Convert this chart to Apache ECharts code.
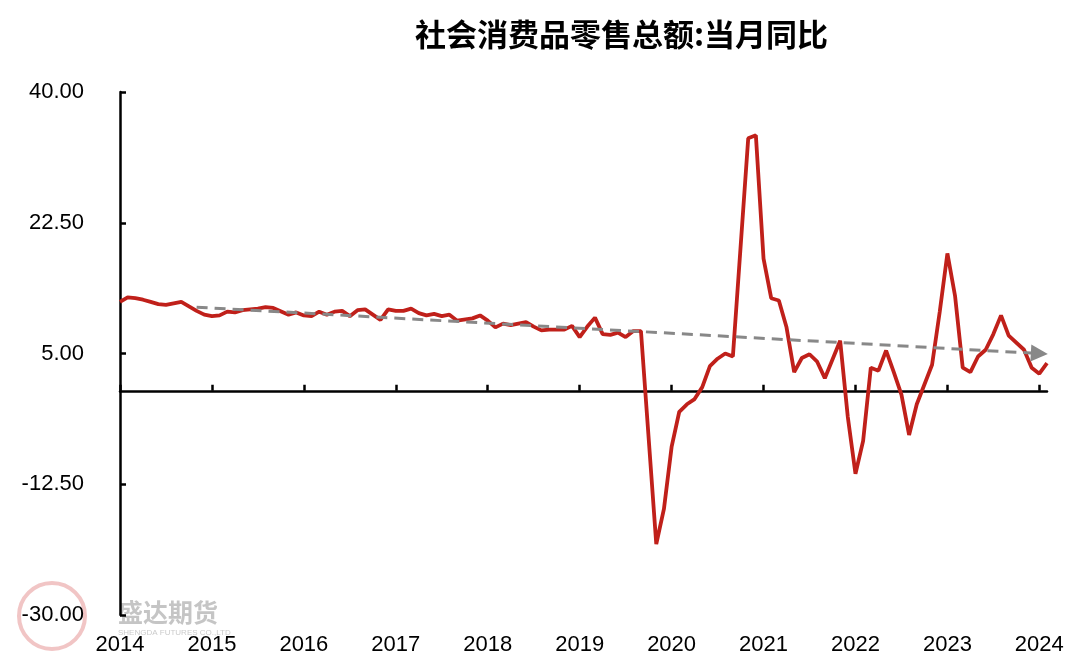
<!DOCTYPE html>
<html>
<head>
<meta charset="utf-8">
<script src="https://cdn.jsdelivr.net/npm/echarts@6/dist/echarts.min.js"></script>
<style>
  html, body { margin: 0; padding: 0; background: #fff; }
  #chart { width: 1080px; height: 667px; }
</style>
</head>
<body>
<div id="chart"></div>
<script>
// ---- Data ----
const titleText = '社会消费品零售总额:当月同比';
const startYear = 2014, startMonth = 4;   // first point: 2014-04
// Monthly YoY values (%), Apr 2014 .. May 2024; January is null (Jan-Feb combined, reported in Feb)
const y2014 = [11.9, 12.5, 12.4, 12.2, 11.9, 11.6, 11.5, 11.7, 11.9];
const y2015 = [null, 10.7, 10.2, 10.0, 10.1, 10.6, 10.5, 10.8, 10.9, 11.0, 11.2, 11.1];
const y2016 = [null, 10.2, 10.5, 10.1, 10.0, 10.6, 10.2, 10.6, 10.7, 10.0, 10.8, 10.9];
const y2017 = [null, 9.5, 10.9, 10.7, 10.7, 11.0, 10.4, 10.1, 10.3, 10.0, 10.2, 9.4];
const y2018 = [null, 9.7, 10.1, 9.4, 8.5, 9.0, 8.8, 9.0, 9.2, 8.6, 8.1, 8.2];
const y2019 = [null, 8.2, 8.7, 7.2, 8.6, 9.8, 7.6, 7.5, 7.8, 7.2, 8.0, 8.0];
const y2020 = [null, -20.5, -15.8, -7.5, -2.8, -1.8, -1.1, 0.5, 3.3, 4.3, 5.0, 4.6];
const y2021 = [null, 33.8, 34.2, 17.7, 12.4, 12.1, 8.5, 2.5, 4.4, 4.9, 3.9, 1.7];
const y2022 = [null, 6.7, -3.5, -11.1, -6.7, 3.1, 2.7, 5.4, 2.5, -0.5, -5.9, -1.8];
const y2023 = [null, 3.5, 10.6, 18.4, 12.7, 3.1, 2.5, 4.6, 5.5, 7.6, 10.1, 7.4];
const y2024 = [null, 5.5, 3.1, 2.3, 3.7];
const retailYoY = [].concat(y2014, y2015, y2016, y2017, y2018, y2019, y2020, y2021, y2022, y2023, y2024);

// Trend arrow (start / end month and value)
const trendStart = ['2015-02', 11.2];
const trendEnd = ['2024-04', 5.0];

// Y tick labels
const yTicks = [-30, -12.5, 5, 22.5, 40];

// Categories (months)
const categories = [];
for (let i = 0; i < retailYoY.length; i++) {
  const m0 = startMonth - 1 + i;
  const y = startYear + Math.floor(m0 / 12);
  const m = (m0 % 12) + 1;
  categories.push(y + '-' + (m < 10 ? '0' + m : '' + m));
}
const isYearTick = (idx, val) => val.slice(5) === '04';

const chart = echarts.init(document.getElementById('chart'), null, { renderer: 'canvas' });
const axisFont = 'Liberation Sans, Arial, sans-serif';

chart.setOption({
  backgroundColor: '#ffffff',
  animation: false,
  title: {
    text: titleText,
    left: 410,
    top: 14,
    textStyle: {
      fontFamily: 'Noto Sans CJK SC',
      fontSize: 31,
      fontWeight: 'bold',
      color: '#000'
    }
  },
  grid: { left: 120, right: 33, top: 92, bottom: 52, containLabel: false },
  xAxis: [
    {
      type: 'category',
      data: categories,
      boundaryGap: false,
      axisLine: { show: true, onZero: true, lineStyle: { color: '#000', width: 2.5 } },
      axisTick: { show: true, inside: true, length: 6, interval: isYearTick, lineStyle: { color: '#000', width: 2.5 } },
      axisLabel: { show: false },
      splitLine: { show: false }
    },
    {
      type: 'category',
      data: categories,
      position: 'bottom',
      boundaryGap: false,
      axisLine: { show: false, onZero: false },
      axisTick: { show: false },
      axisLabel: {
        show: true,
        interval: isYearTick,
        formatter: v => v.slice(0, 4),
        fontFamily: axisFont,
        fontSize: 22,
        color: '#000',
        margin: 19
      },
      splitLine: { show: false }
    }
  ],
  yAxis: {
    type: 'value',
    min: -30,
    max: 40,
    axisLine: { show: true, lineStyle: { color: '#000', width: 2.5 } },
    axisTick: { show: true, inside: true, length: 6, customValues: yTicks, lineStyle: { color: '#000', width: 2.5 } },
    axisLabel: {
      customValues: yTicks,
      formatter: v => v.toFixed(2),
      fontFamily: axisFont,
      fontSize: 22,
      color: '#000',
      margin: 36
    },
    splitLine: { show: false }
  },
  graphic: [
    {
      type: 'circle',
      shape: { cx: 52, cy: 616, r: 33 },
      style: { fill: 'rgba(0,0,0,0)', stroke: 'rgba(215,90,90,0.35)', lineWidth: 4 },
      silent: true, z: 0
    },
    {
      type: 'text',
      left: 118, top: 600,
      style: { text: '盛达期货', fontFamily: 'Noto Sans CJK SC', fontSize: 25, fontWeight: 'bold', fill: 'rgba(150,150,150,0.55)' },
      silent: true, z: 0
    },
    {
      type: 'text',
      left: 118, top: 629,
      style: { text: 'SHENGDA FUTURES CO.,LTD', fontFamily: axisFont, fontSize: 8, fill: 'rgba(150,150,150,0.5)' },
      silent: true, z: 0
    }
  ],
  series: [
    {
      name: '社会消费品零售总额:当月同比',
      type: 'line',
      data: retailYoY,
      connectNulls: true,
      showSymbol: false,
      symbol: 'none',
      smooth: false,
      lineStyle: { color: '#C0201A', width: 3.8 },
      itemStyle: { color: '#C0201A' },
      z: 3,
      markLine: {
        silent: true,
        animation: false,
        label: { show: false },
        lineStyle: { color: '#888888', width: 3, type: [11, 7] },
        itemStyle: { color: '#888888' },
        data: [[
          { coord: trendStart, symbol: 'none' },
          { coord: trendEnd, symbol: 'triangle', symbolSize: 17 }
        ]]
      }
    }
  ]
});
</script>
</body>
</html>
